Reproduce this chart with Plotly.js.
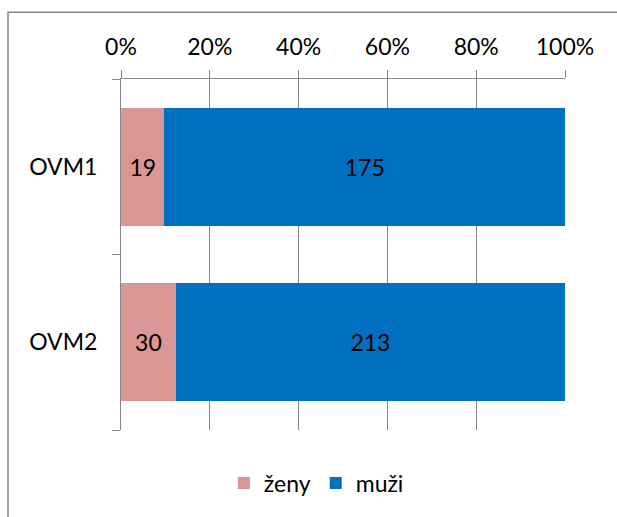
<!DOCTYPE html>
<html>
<head>
<meta charset="utf-8">
<script src="https://cdn.plot.ly/plotly-3.0.1.min.js"></script>
<style>
html,body{margin:0;padding:0;background:#fff;}
#chart{width:617px;height:517px;}
</style>
</head>
<body>
<div id="chart"></div>
<script>
var categories = ["OVM1", "OVM2"];
var zeny = [19, 30];
var muzi = [175, 213];
var seriesNames = ["ženy", "muži"];
var tickVals = [0, 20, 40, 60, 80, 100];
var tickText = ["0%", "20%", "40%", "60%", "80%", "100%"];
var boundaryTicks = [-0.5, 0.5, 1.5];

var FONT = "Lato, 'Open Sans', sans-serif";
var FS = 23;
var GRAY = "#868686";

var traces = [
  {
    type: "bar", orientation: "h", name: seriesNames[0],
    y: categories, x: zeny, text: zeny.map(String),
    texttemplate: "%{text}", textposition: "inside", insidetextanchor: "middle",
    textfont: {family: FONT, size: FS, color: "#000"},
    marker: {color: "#D99694"}, width: 0.67, hoverinfo: "none"
  },
  {
    type: "bar", orientation: "h", name: seriesNames[1],
    y: categories, x: muzi, text: muzi.map(String),
    texttemplate: "%{text}", textposition: "inside", insidetextanchor: "middle",
    textfont: {family: FONT, size: FS, color: "#000"},
    marker: {color: "#0070C0"}, width: 0.67, hoverinfo: "none"
  },
  {
    type: "scatter", mode: "markers", x: [], y: [], xaxis: "x", yaxis: "y2",
    showlegend: false, hoverinfo: "none"
  }
];

var layout = {
  width: 617, height: 517,
  margin: {l: 121, r: 52, t: 79, b: 85},
  paper_bgcolor: "#fff", plot_bgcolor: "#fff",
  barmode: "stack", barnorm: "percent",
  font: {family: FONT, size: FS, color: "#000"},
  showlegend: true,
  legend: {
    orientation: "h", x: 0.44, xanchor: "center", y: -0.09, yanchor: "top",
    traceorder: "normal", font: {family: FONT, size: FS, color: "#000"},
    itemwidth: 30
  },
  xaxis: {
    side: "top", range: [0, 100], tickvals: tickVals, ticktext: tickText,
    showgrid: true, gridcolor: GRAY, gridwidth: 1,
    showline: true, linecolor: GRAY, linewidth: 1,
    ticks: "outside", ticklen: 8, tickcolor: GRAY, tickwidth: 1,
    ticklabelstandoff: 6,
    zeroline: false, fixedrange: true,
    tickfont: {family: FONT, size: FS, color: "#000"}
  },
  yaxis: {
    type: "category", range: [1.5, -0.5],
    showline: true, linecolor: GRAY, linewidth: 1,
    ticks: "",
    showgrid: false, zeroline: false, fixedrange: true,
    ticklabelstandoff: 18,
    tickfont: {family: FONT, size: FS, color: "#000"}
  },
  yaxis2: {
    type: "linear", overlaying: "y", side: "left", range: [1.5, -0.5],
    tickvals: boundaryTicks, showticklabels: false,
    ticks: "outside", ticklen: 8, tickcolor: GRAY, tickwidth: 1,
    showline: false, showgrid: false, zeroline: false, fixedrange: true
  },
  shapes: [{
    type: "rect", xref: "paper", yref: "paper", layer: "below",
    x0: -0.2545, x1: 1.3, y0: -0.4, y1: 1.19,
    line: {color: GRAY, width: 1.5}, fillcolor: "rgba(0,0,0,0)"
  }]
};

Plotly.newPlot("chart", traces, layout, {displayModeBar: false, staticPlot: true});
</script>
</body>
</html>
